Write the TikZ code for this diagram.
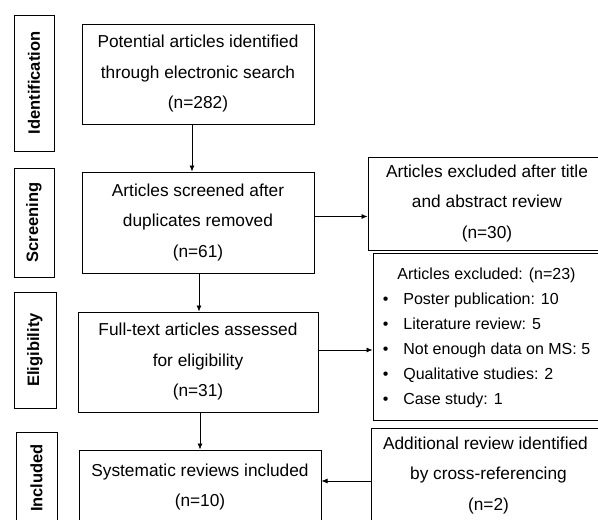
\documentclass[tikz,border=0pt]{standalone}
\usepackage{fontspec}
\setmainfont{Liberation Sans}
\usetikzlibrary{arrows.meta}

\begin{document}
\begin{tikzpicture}[x=1pt,y=-1pt,
  stage/.style={draw, line width=1pt, rotate=90, inner sep=0pt,
    font=\fontsize{16.5}{18}\selectfont\bfseries},
  box/.style={draw, line width=1pt, align=center, inner sep=0pt,
    font=\fontsize{17.3}{30.5}\selectfont},
  arr/.style={-{Latex[length=6pt,width=5pt]}, line width=0.7pt}]
\useasboundingbox (0,0) rectangle (598,520);

% stages on the left
\node[stage, minimum width=136pt, minimum height=40pt] (ident) at (34,83) {Identification};
\node[stage, minimum width=109pt, minimum height=40pt] (screen) at (34,222.5) {Screening};
\node[stage, minimum width=116pt, minimum height=42pt] (elig) at (35,350) {Eligibility};
\node[stage, minimum width=92pt, minimum height=41pt] (incl) at (36.5,478) {Included};

% main flow
\node[box, minimum width=232pt, minimum height=100pt] (pot) at (198,74)
  {Potential articles identified\\ through electronic search\\ (n=282)};
\node[box, minimum width=232pt, minimum height=101pt] (scr) at (198,222.5)
  {Articles screened after\\ duplicates removed\\ (n=61)};
\node[box, minimum width=240pt, minimum height=100pt] (full) at (198,362)
  {Full-text articles assessed\\ for eligibility\\ (n=31)};
\node[box, minimum width=242pt, minimum height=74pt] (sys) at (200,487)
  {Systematic reviews included\\ (n=10)};

% side boxes
\node[box, minimum width=238pt, minimum height=93pt] (excl1) at (487,203.5)
  {Articles excluded after title\\ and abstract review\\ (n=30)};
\node[box, minimum width=233pt, minimum height=167pt, font=\fontsize{16}{25}\selectfont] (excl2) at (489.5,336.5)
  {\hspace*{-6pt}\begin{tabular}{@{}l@{\hspace{15pt}}l@{}}
   \multicolumn{2}{c}{Articles excluded: (n=23)}\\
   \textbullet & Poster publication: 10\\
   \textbullet & Literature review: 5\\
   \textbullet & Not enough data on MS: 5\\
   \textbullet & Qualitative studies: 2\\
   \textbullet & Case study: 1
   \end{tabular}};
\node[box, minimum width=235pt, minimum height=95pt] (add) at (488.5,475.5)
  {\hspace*{-6pt}Additional review identified\\ by cross-referencing\\ (n=2)};

% connectors
\draw[arr] ([xshift=-6pt]pot.south) -- ([xshift=-6pt]scr.north);
\draw[arr] ([xshift=1pt]scr.south) -- ([xshift=1pt]full.north);
\draw[arr] ([xshift=2pt]full.south) -- (sys.north);
\coordinate (s1) at ([yshift=6pt]scr.east);
\draw[arr] (s1) -- (s1 -| excl1.west);
\coordinate (f1) at ([yshift=12pt]full.east);
\draw[arr] (f1) -- (f1 -| excl2.west);
\coordinate (a1) at ([yshift=-5.5pt]add.west);
\draw[arr] (a1) -- (a1 -| sys.east);
\end{tikzpicture}
\end{document}
